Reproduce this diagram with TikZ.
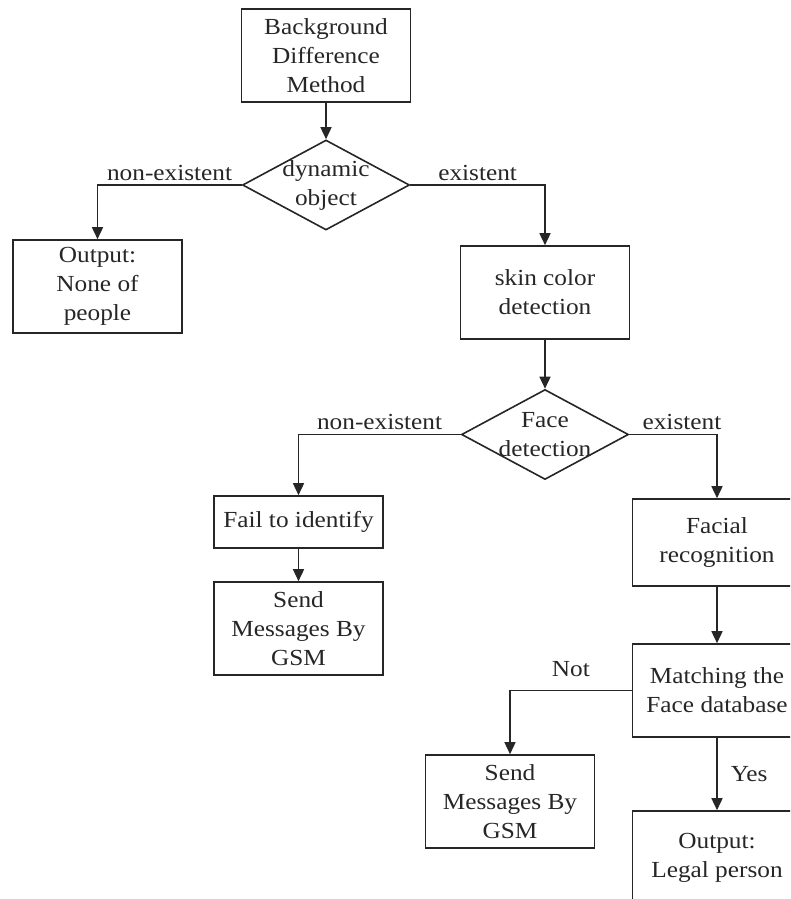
\documentclass[tikz,border=0pt]{standalone}
\usepackage{fontspec}
\setmainfont{Liberation Serif}[FakeStretch=1.1]
\usetikzlibrary{shapes.geometric,arrows.meta,positioning}

\begin{document}
\begin{tikzpicture}[x=1pt, y=-1pt,
font=\fontsize{23}{29}\selectfont,
box/.style={rectangle, draw=black!85, line width=1.6pt, text=black!85, minimum width=\boxw, minimum height=\boxh, inner sep=2pt, align=center},
decision/.style={diamond, draw=black!85, line width=1.6pt, minimum width=167pt, minimum height=90pt, inner sep=0pt},
edge/.style={draw=black!85, line width=1.5pt, -{Triangle[length=12pt, width=11pt]}},
info/.style={draw=none, fill=none, inner sep=0pt, text=black!85, align=center},
lbl/.style={draw=none, fill=none, inner sep=4pt, text=black!85}]

%% local variables
\def \boxw {169pt}
\def \boxh {93pt}

%% page size, right and bottom boxes run off the page
\useasboundingbox (0,0) rectangle (790,899);
\clip (0,0) rectangle (790,899);

%% first branch
\node[box] (bdm) at (326,55.5) {Background\\Difference\\Method};
\node[decision] (dyn) at (326,185) {};
\node[info] (dyn-t) at (dyn) {dynamic\\object};
\node[box] (none) at (97.5,286.5) {Output:\\None of\\people};
\node[box] (skin) at (545,292.5) {skin color\\detection};

%% second branch
\node[decision] (face) at (545,434.5) {};
\node[info] (face-t) at (face) {Face\\detection};
\node[box, minimum height=52pt] (fail) at (298.5,522) {Fail to identify};
\node[box] (gsm-1) at (298.5,628.5) {Send\\Messages By\\GSM};
\node[box, minimum height=87pt] (facial) at (717,542.5) {Facial\\recognition};

%% matching
\node[box] (match) at (717,690.5) {Matching the\\Face database};
\node[box] (gsm-2) at (510,801.5) {Send\\Messages By\\GSM};
\node[box] (legal) at (717,857.5) {Output:\\Legal person};

%% place all edges
\foreach \a/\b in {bdm/dyn, skin/face, fail/gsm-1, facial/match}
      \draw[edge] (\a) -- (\b);

\draw[edge] (dyn.west) -| node[lbl, above, pos=0.25] {non-existent} (none.north);
\draw[edge] (dyn.east) -| node[lbl, above, pos=0.25] {existent} (skin.north);
\draw[edge] (face.west) -| node[lbl, above, pos=0.25] {non-existent} (fail.north);
\draw[edge] (face.east) -| node[lbl, above, pos=0.3] {existent} (facial.north);
\draw[edge] (match.west) -| node[lbl, above, pos=0.25, yshift=9pt] {Not} (gsm-2.north);
\draw[edge] (match) -- node[lbl, right, xshift=9pt] {Yes} (legal);

\end{tikzpicture}
\end{document}
